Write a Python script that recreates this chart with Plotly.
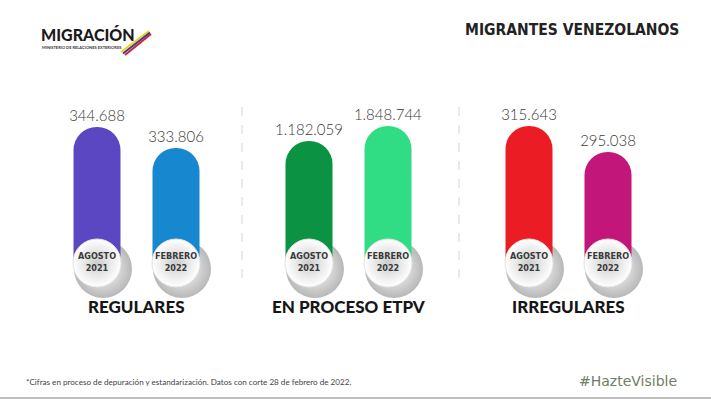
import plotly.graph_objects as go

# ---------------- data ----------------
groups = ["REGULARES", "EN PROCESO ETPV", "IRREGULARES"]
periods = ["AGOSTO 2021", "FEBRERO 2022"]
period_labels = ["AGOSTO<br>2021", "FEBRERO<br>2022"]
regulares = [344688, 333806]
en_proceso = [1182059, 1848744]
irregulares = [315643, 295038]
series = [regulares, en_proceso, irregulares]

# ---------------- styles ----------------
colors = [["#5c47c3", "#1788cf"], ["#0b9243", "#30dc84"], ["#ec1c24", "#c2167a"]]
log_ranges = [[5.44725, 5.55532], [4.49286, 6.60355], [5.34471, 5.52852]]
W, H = 711, 399
x_dom_px = [[57.5, 215.5], [269.5, 427.5], [489.5, 647.5]]
y_dom_px = [100, 263]
shadow_dx, shadow_dy = 6, 6
COND = "DejaVu Sans Condensed, Roboto, sans-serif"


def px_x(v):
    return v / W


def px_y(v):
    return 1 - v / H


fig = go.Figure()
layout_axes = {}

for i, (vals, rng) in enumerate(zip(series, log_ranges)):
    s = i + 1  # shadow axes
    m = i + 4  # main axes
    sx = "x" if s == 1 else f"x{s}"
    sy = "y" if s == 1 else f"y{s}"
    mx, my = f"x{m}", f"y{m}"
    y_base = 10 ** (rng[0] + 1e-6)  # badge sits on the bottom edge of the axis

    # soft shadow under the badges
    fig.add_trace(go.Scatter(
        x=periods, y=[y_base] * 2, mode="markers", xaxis=sx, yaxis=sy,
        marker=dict(size=58, color="rgba(0,0,0,0.28)",
                    gradient=dict(type="radial", color="rgba(0,0,0,0)"),
                    line=dict(width=0)),
        cliponaxis=False, hoverinfo="skip", showlegend=False))

    # bars
    fig.add_trace(go.Bar(
        x=periods, y=vals, xaxis=mx, yaxis=my, width=0.595,
        marker=dict(color=colors[i], cornerradius="50%", line=dict(width=0)),
        texttemplate="%{y:,.0f}", textposition="outside", constraintext="none",
        textfont=dict(family="Lato", size=15, color="#3b3b36", weight=300),
        cliponaxis=False, showlegend=False, name=groups[i]))

    # badges
    fig.add_trace(go.Scatter(
        x=periods, y=[y_base] * 2, mode="markers+text", xaxis=mx, yaxis=my,
        text=period_labels, textposition="middle center",
        textfont=dict(family=COND, size=9, color="#3a3a3a", weight=700),
        marker=dict(size=48, color="#ffffff",
                    gradient=dict(type="radial", color="#cdcdcd"),
                    line=dict(color="#e4e4e4", width=1)),
        cliponaxis=False, hoverinfo="skip", showlegend=False))

    for k, dx, dy in ((s, shadow_dx, shadow_dy), (m, 0, 0)):
        xd = [px_x(x_dom_px[i][0] + dx), px_x(x_dom_px[i][1] + dx)]
        yd = [px_y(y_dom_px[1] + dy), px_y(y_dom_px[0] + dy)]
        xname = "xaxis" if k == 1 else f"xaxis{k}"
        yname = "yaxis" if k == 1 else f"yaxis{k}"
        layout_axes[xname] = dict(domain=xd, type="category", range=[-0.5, 1.5],
                                  visible=False, anchor="y" if k == 1 else f"y{k}")
        layout_axes[yname] = dict(domain=yd, type="log", range=rng, visible=False,
                                  anchor="x" if k == 1 else f"x{k}")

annotations = []
for i, g in enumerate(groups):
    annotations.append(dict(
        text=g, xref=f"x{i + 4} domain", x=0.5, yref="paper", y=px_y(306),
        showarrow=False, xanchor="center", yanchor="middle",
        font=dict(family="Lato", size=17, color="#161616", weight=900)))

annotations += [
    dict(text="MIGRANTES VENEZOLANOS", xref="paper", yref="paper",
         x=px_x(681), y=px_y(30), xanchor="right", yanchor="middle", showarrow=False,
         font=dict(family=COND, size=15.5, color="#222222", weight=700)),
    dict(text="MIGRACIÓN", xref="paper", yref="paper",
         x=px_x(39), y=px_y(34.5), xanchor="left", yanchor="middle", showarrow=False,
         font=dict(family="Lato", size=16, color="#1a1a1a", weight=900)),
    dict(text="MINISTERIO DE RELACIONES EXTERIORES", xref="paper", yref="paper",
         x=px_x(40), y=px_y(47.5), xanchor="left", yanchor="middle", showarrow=False,
         font=dict(family="Lato", size=4, color="#333333", weight=700)),
    dict(text="*Cifras en proceso de depuración y estandarización. Datos con corte 28 de febrero de 2022.",
         xref="paper", yref="paper", x=px_x(24), y=px_y(382), xanchor="left", yanchor="middle",
         showarrow=False, font=dict(family="Lato", size=8.1, color="#444444")),
    dict(text="#HazteVisible", xref="paper", yref="paper", x=px_x(679), y=px_y(381),
         xanchor="right", yanchor="middle", showarrow=False,
         font=dict(family="DejaVu Sans", size=14, color="#6f7d64")),
]

shapes = []
for sep in (242, 459):
    shapes.append(dict(type="line", xref="paper", yref="paper",
                       x0=px_x(sep), x1=px_x(sep), y0=px_y(107), y1=px_y(285),
                       line=dict(color="#d4d4d4", width=1, dash="dash")))
for j, c in enumerate(["#f5d20a", "#2a3f9e", "#d61f2c"]):
    shapes.append(dict(type="line", xref="paper", yref="paper",
                       x0=px_x(121 + j * 2), y0=px_y(52 + j * 1.5),
                       x1=px_x(149 + j * 1), y1=px_y(31 + j * 1.5),
                       line=dict(color=c, width=2)))
shapes.append(dict(type="line", xref="paper", yref="paper", x0=0, x1=1,
                   y0=px_y(398), y1=px_y(398), line=dict(color="#bdbdbd", width=2)))

fig.update_layout(
    width=W, height=H, margin=dict(l=0, r=0, t=0, b=0),
    paper_bgcolor="white", plot_bgcolor="rgba(0,0,0,0)",
    separators=",.", showlegend=False, barmode="group",
    annotations=annotations, shapes=shapes, **layout_axes)

fig.write_html("out.html", config={"displayModeBar": False},
               post_script="document.body.style.margin='0';document.body.style.overflow='hidden';")
